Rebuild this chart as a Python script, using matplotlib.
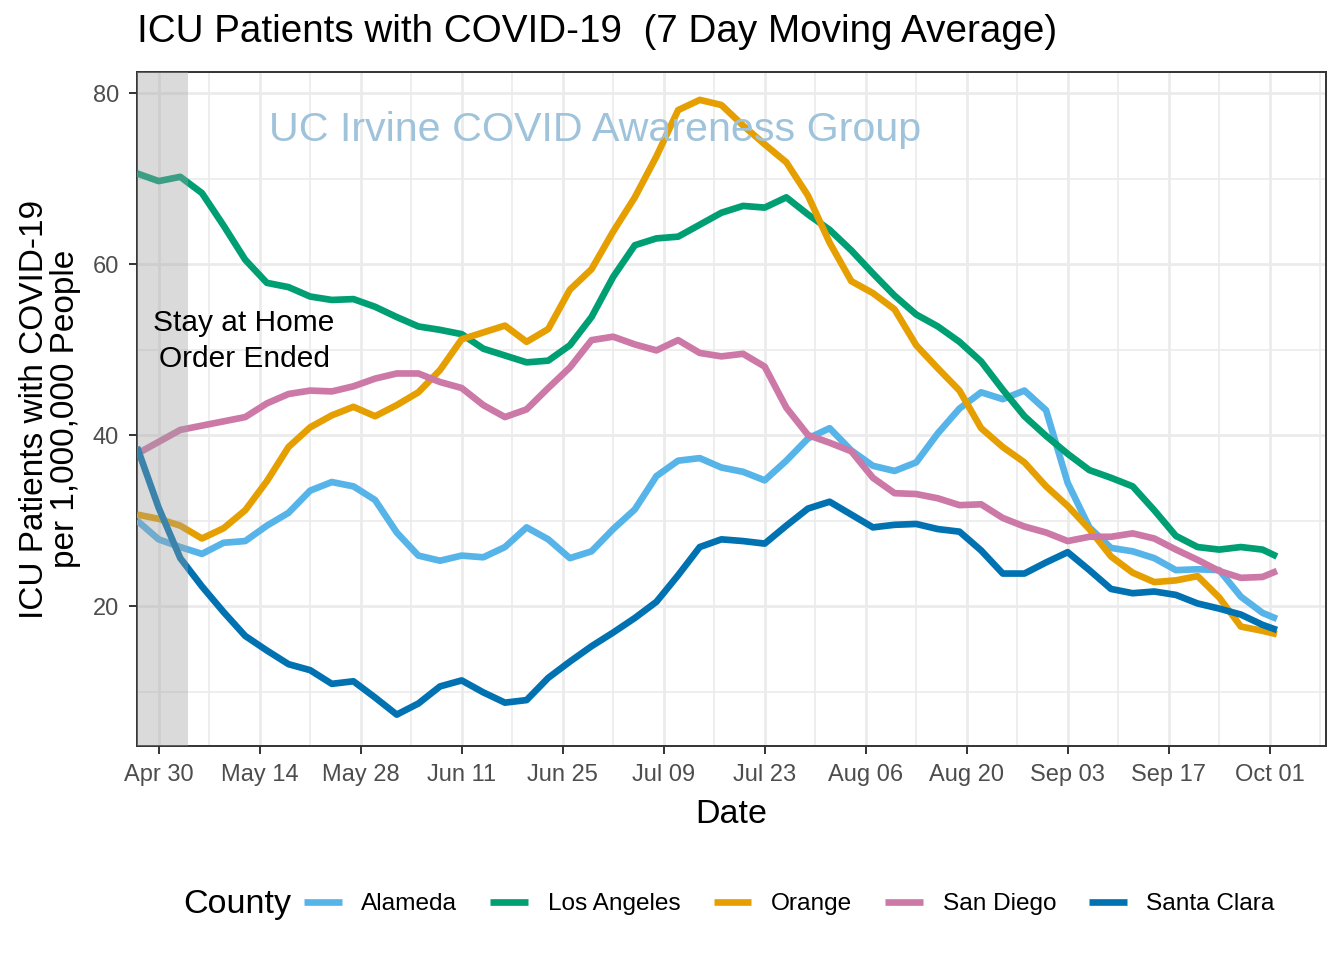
import pandas as pd
import matplotlib
matplotlib.use("Agg")
import matplotlib.pyplot as plt
import matplotlib.dates as mdates

plt.rcParams['font.family'] = ['Liberation Sans', 'DejaVu Sans']

# every 3 days from Apr 27, last point Oct 02
dates = pd.date_range("2020-04-27", "2020-09-30", freq="3D").append(pd.DatetimeIndex(["2020-10-02"]))

counties = ["Alameda", "Los Angeles", "Orange", "San Diego", "Santa Clara"]
colors = ["#56B4E9", "#009E73", "#E69F00", "#CC79A7", "#0072B2"]

alameda = [30.0, 27.8, 26.9, 26.1, 27.4, 27.6, 29.4, 30.9, 33.5, 34.5,
           34.0, 32.4, 28.6, 25.9, 25.3, 25.9, 25.7, 26.9, 29.2, 27.8,
           25.6, 26.4, 29.0, 31.3, 35.2, 37.0, 37.3, 36.2, 35.7, 34.7,
           37.0, 39.6, 40.8, 38.2, 36.4, 35.8, 36.8, 40.2, 43.1, 45.0,
           44.2, 45.2, 42.9, 34.4, 29.2, 26.8, 26.4, 25.6, 24.2, 24.3,
           24.2, 21.1, 19.2, 18.5]
los_angeles = [70.6, 69.7, 70.2, 68.3, 64.5, 60.5, 57.8, 57.3, 56.2, 55.8,
               55.9, 55.0, 53.8, 52.7, 52.3, 51.8, 50.1, 49.3, 48.5, 48.7,
               50.5, 53.8, 58.5, 62.2, 63.0, 63.2, 64.6, 66.0, 66.8, 66.6,
               67.8, 65.8, 64.0, 61.6, 58.9, 56.3, 54.1, 52.7, 50.9, 48.6,
               45.3, 42.2, 39.9, 37.8, 35.9, 35.0, 34.0, 31.2, 28.2, 26.9,
               26.6, 26.9, 26.6, 25.8]
orange = [30.7, 30.2, 29.4, 27.9, 29.1, 31.2, 34.6, 38.6, 40.9, 42.3,
          43.3, 42.2, 43.5, 45.0, 47.6, 51.2, 52.0, 52.8, 50.9, 52.4,
          57.0, 59.4, 63.8, 67.8, 72.6, 78.0, 79.2, 78.6, 76.2, 74.0,
          71.9, 68.0, 62.5, 58.0, 56.6, 54.7, 50.5, 47.8, 45.2, 40.8,
          38.6, 36.8, 34.0, 31.7, 29.0, 25.8, 23.9, 22.8, 23.0, 23.5,
          21.0, 17.6, 17.1, 16.7]
san_diego = [37.8, 39.2, 40.6, 41.1, 41.6, 42.1, 43.7, 44.8, 45.2, 45.1,
             45.7, 46.6, 47.2, 47.2, 46.2, 45.5, 43.5, 42.1, 43.0, 45.5,
             47.9, 51.1, 51.5, 50.6, 49.9, 51.1, 49.6, 49.2, 49.5, 48.0,
             43.2, 40.0, 39.1, 38.1, 35.0, 33.2, 33.1, 32.6, 31.8, 31.9,
             30.3, 29.3, 28.6, 27.6, 28.1, 28.1, 28.5, 27.9, 26.6, 25.4,
             24.1, 23.3, 23.4, 24.1]
santa_clara = [38.6, 31.5, 25.6, 22.3, 19.3, 16.5, 14.8, 13.2, 12.5, 10.9,
               11.2, 9.3, 7.3, 8.6, 10.6, 11.3, 9.9, 8.7, 9.0, 11.6,
               13.5, 15.3, 16.9, 18.6, 20.5, 23.6, 26.9, 27.8, 27.6, 27.3,
               29.4, 31.4, 32.2, 30.7, 29.2, 29.5, 29.6, 29.0, 28.7, 26.5,
               23.8, 23.8, 25.1, 26.3, 24.2, 22.0, 21.5, 21.7, 21.3, 20.3,
               19.7, 19.0, 17.8, 17.2]
series = [alameda, los_angeles, orange, san_diego, santa_clara]

order_end = pd.Timestamp("2020-05-04")

fig = plt.figure(figsize=(13.44, 9.6), dpi=100)
ax = fig.add_axes([137 / 1344, 1 - 746 / 960, (1326 - 137) / 1344, (746 - 72) / 960])

for name, col, vals in zip(counties, colors, series):
    ax.plot(dates, vals, color=col, lw=4.8, label=name, solid_capstyle='butt',
            solid_joinstyle='round', zorder=3)

ax.axvspan(dates[0], order_end, color='#a0a0a0', alpha=0.38, lw=0, zorder=4)

ax.text(pd.Timestamp("2020-05-11 20:00"), 51.0, "Stay at Home\nOrder Ended",
        ha='center', va='center', fontsize=21.5, linespacing=1.35, zorder=5)
ax.text(pd.Timestamp("2020-06-29 12:00"), 75.7, "UC Irvine COVID Awareness Group",
        ha='center', va='center', fontsize=29.7, color='#9EC3DB', zorder=5)

ax.set_xlim(dates[0], dates[0] + pd.Timedelta(days=164.8))
ax.set_ylim(3.63, 82.46)

major = pd.date_range("2020-04-30", "2020-10-01", freq="14D")
minor = pd.date_range("2020-05-07", "2020-10-08", freq="14D")
ax.set_xticks(major)
ax.set_xticks(minor, minor=True)
ax.xaxis.set_major_formatter(mdates.DateFormatter("%b %d"))
ax.set_yticks([20, 40, 60, 80])
ax.set_yticks([10, 30, 50, 70], minor=True)

ax.grid(which='major', color='#EBEBEB', lw=2.0, zorder=0)
ax.grid(which='minor', color='#EBEBEB', lw=1.2, zorder=0)
ax.set_axisbelow(True)
for s in ax.spines.values():
    s.set_color('#333333')
    s.set_linewidth(1.4)
ax.tick_params(which='major', length=6, width=1.4, color='#333333', labelsize=17,
               labelcolor='#4D4D4D', pad=7)
ax.tick_params(which='minor', length=0)

ax.set_xlabel("Date", fontsize=24.5, labelpad=9)
ax.set_ylabel("ICU Patients with COVID-19\nper 1,000,000 People", fontsize=24, labelpad=8,
              linespacing=1.0)

fig.text(137 / 1344, 1 - 32 / 960, "ICU Patients with COVID-19  (7 Day Moving Average)",
         ha='left', va='center', fontsize=27.8)

fig.text(183 / 1344, 1 - 904 / 960, "County", ha='left', va='center', fontsize=24.5)
handles, labels = ax.get_legend_handles_labels()
fig.legend(handles, labels, loc='center left', bbox_to_anchor=(304 / 1344, 1 - 904 / 960),
           ncol=5, frameon=False, fontsize=17.6, handlelength=1.55, handletextpad=0.8,
           columnspacing=1.35, borderpad=0, borderaxespad=0)

fig.savefig("out.png", dpi=100)
